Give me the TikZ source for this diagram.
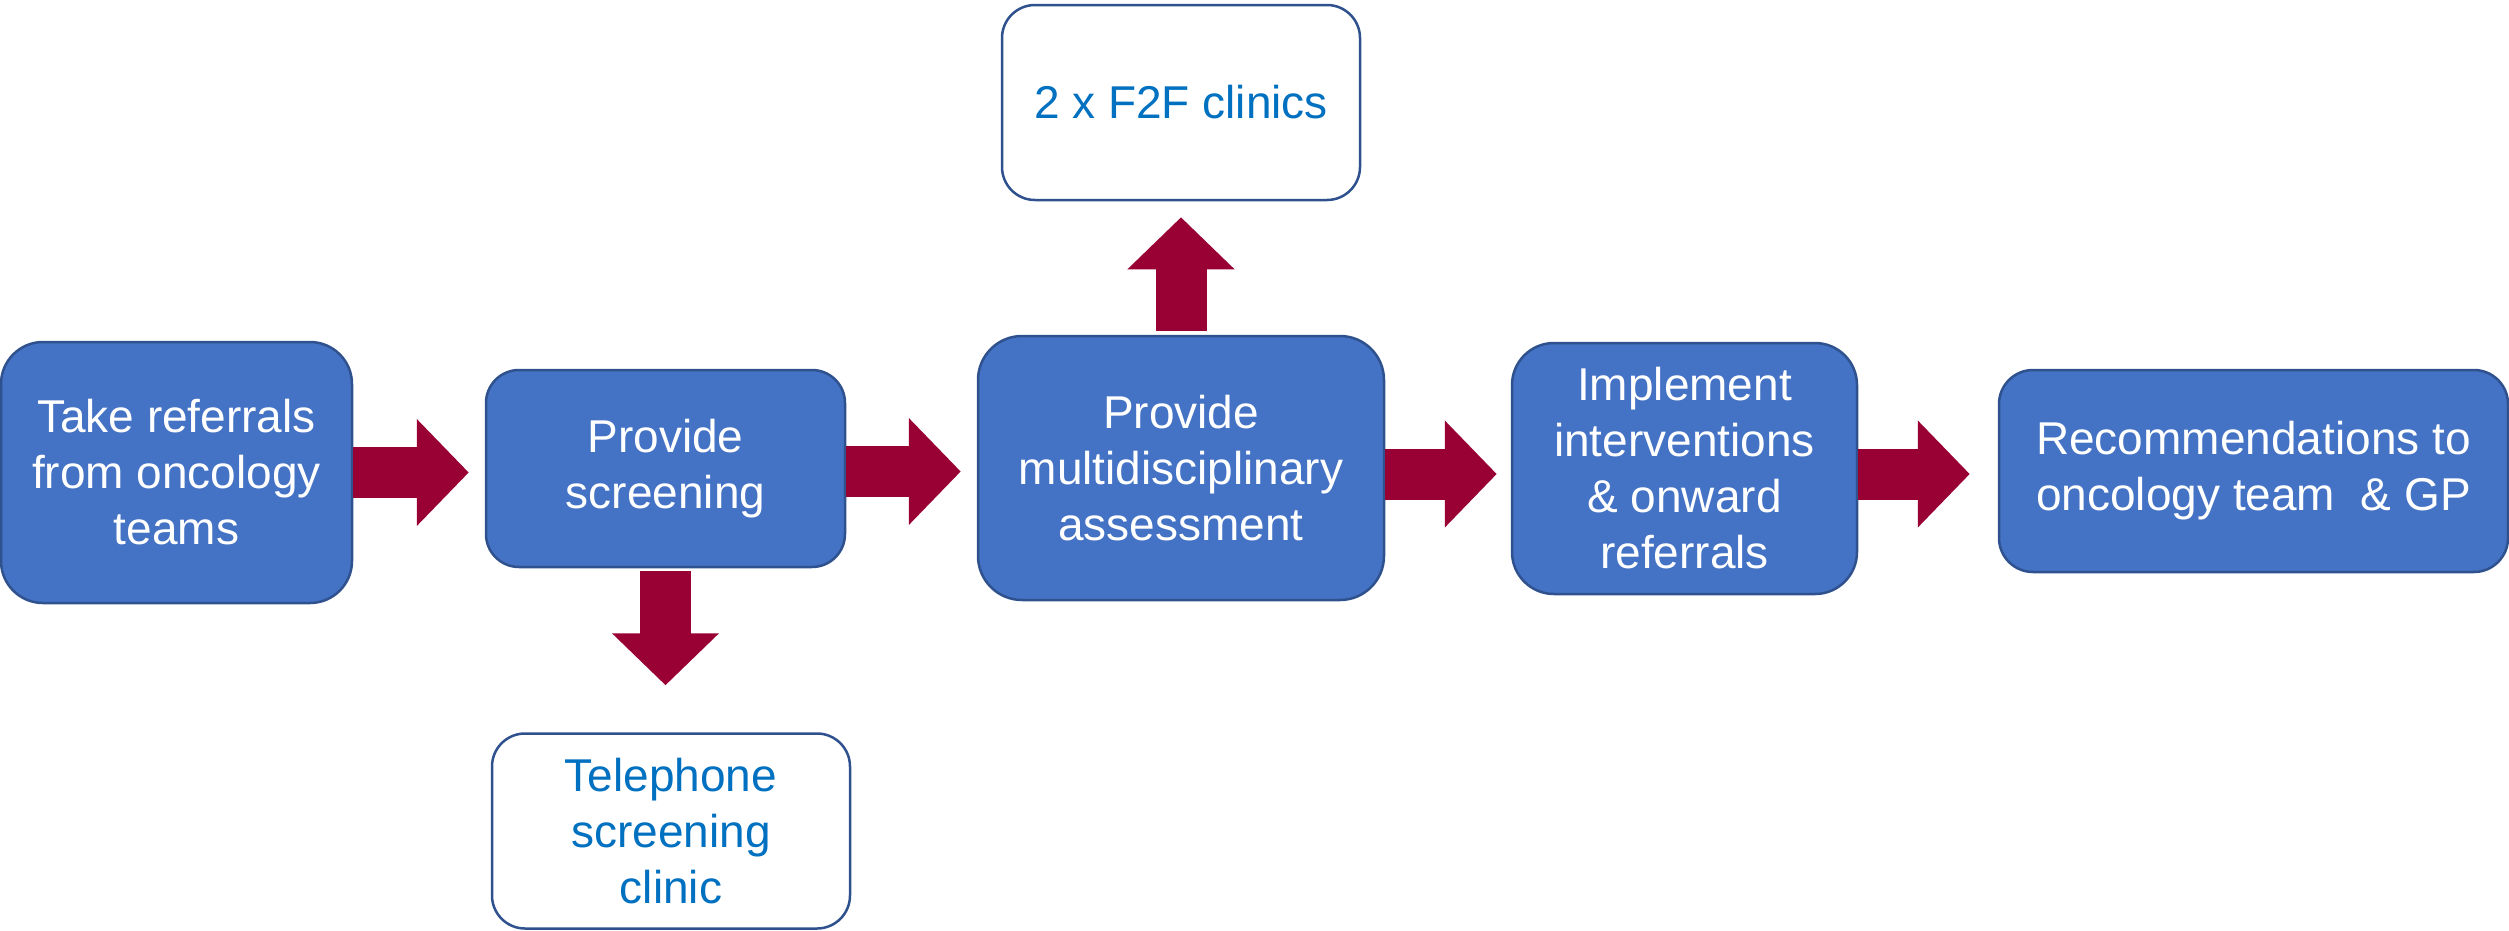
\documentclass[tikz,border=0pt]{standalone}
\usepackage{fontspec}
\setmainfont{Liberation Sans}
\usetikzlibrary{arrows.meta}
\definecolor{boxblue}{HTML}{4472C4}
\definecolor{boxline}{HTML}{2F528F}
\definecolor{arrowred}{HTML}{990033}
\definecolor{clinictext}{HTML}{0070C0}

\begin{document}
\begin{tikzpicture}[x=1pt,y=-1pt,
        stage/.style={draw=boxline,line width=2.5pt,fill=boxblue,text=white,align=center,
            font=\fontsize{46}{56}\selectfont,inner sep=0pt},
        clinic/.style={draw=boxline,line width=2.5pt,fill=white,text=clinictext,align=center,
            font=\fontsize{46}{56}\selectfont,inner sep=0pt,
            minimum width=358pt,minimum height=195pt,rounded corners=33pt},
        bigarrow/.style={draw=arrowred,line width=51pt,
            -{Triangle[length=52pt,width=104pt]}}]
            \useasboundingbox (0,0) rectangle (2509,930);

            \node (b1) at (176.5,472.5)[stage,minimum width=351pt,minimum height=261pt,rounded corners=42pt]
                {Take referrals\\from oncology\\teams};
            \node (b2) at (665.5,468.5)[stage,minimum width=359pt,minimum height=197pt,rounded corners=33pt]
                {Provide\\screening};
            \node (b3) at (1181,468)[stage,minimum width=406pt,minimum height=264pt,rounded corners=44pt]
                {Provide\\multidisciplinary\\assessment};
            \node (b4) at (1684.5,468.5)[stage,minimum width=345pt,minimum height=251pt,rounded corners=42pt]
                {Implement\\interventions\\\& onward\\referrals};
            \node (b5) at (2253.5,471)[stage,minimum width=509pt,minimum height=202pt,rounded corners=34pt]
                {Recommendations to\\oncology team\ \ \& GP};

            \node (f2f) at (1181,102.5)[clinic]{2 x F2F clinics};
            \node (tel) at (671,831)[clinic]{Telephone\\screening\\clinic};

            \draw[bigarrow,shorten >=16pt] (b1.east) -- (b1.east -| b2.west);
            \draw[bigarrow,shorten >=16pt] ([yshift=-3pt]b2.east) -- ([yshift=-3pt]b2.east -| b3.west);
            \draw[bigarrow,shorten >=14pt] ([yshift=-6pt]b3.east) -- ([yshift=-6pt]b3.east -| b4.west);
            \draw[bigarrow,shorten >=28pt] ([yshift=-5.5pt]b4.east) -- ([yshift=-5.5pt]b4.east -| b5.west);

            \draw[bigarrow,shorten <=3pt,shorten >=47pt] (b2.south) -- (b2.south |- tel.north);
            \draw[bigarrow,shorten <=4pt,shorten >=16pt] (b3.north) -- (f2f.south);
        \end{tikzpicture}
\end{document}
